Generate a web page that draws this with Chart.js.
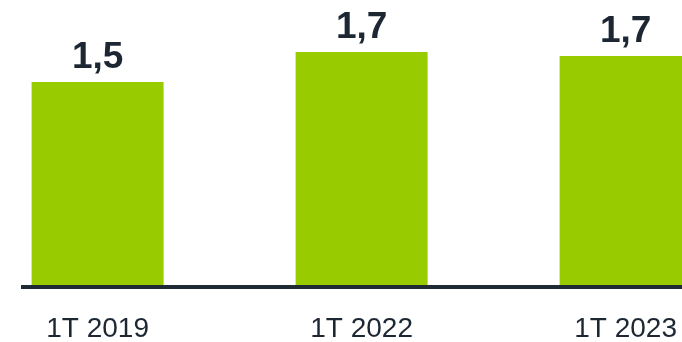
<!DOCTYPE html>
<html>
<head>
<meta charset="utf-8">
<script src="https://cdn.jsdelivr.net/npm/chart.js@4/dist/chart.umd.min.js"></script>
<style>
  html, body { margin: 0; padding: 0; background: #ffffff; overflow: hidden; }
  #chart { display: block; }
</style>
</head>
<body>
<canvas id="chart" width="682" height="342"></canvas>
<script>
// Quarter labels and the value of each bar
const categories = ['1T 2019', '1T 2022', '1T 2023'];
const values = [1.50, 1.72, 1.69];

const BAR_GREEN = '#99cc00';
const INK = '#1c2733';
const FONT = '"Liberation Sans", Arial, Helvetica, sans-serif';

// Writes each bar's value (one decimal, comma separator) above it
const valueLabels = {
  id: 'valueLabels',
  afterDatasetsDraw(chart) {
    const ctx = chart.ctx;
    const meta = chart.getDatasetMeta(0);
    ctx.save();
    ctx.fillStyle = INK;
    ctx.font = 'bold 37px ' + FONT;
    ctx.textAlign = 'center';
    ctx.textBaseline = 'alphabetic';
    meta.data.forEach((bar, i) => {
      const text = values[i].toFixed(1).replace('.', ',');
      ctx.fillText(text, bar.x, bar.y - 14);
    });
    ctx.restore();
  }
};

new Chart(document.getElementById('chart'), {
  type: 'bar',
  data: {
    datasets: [{
      data: values.map((v, i) => ({ x: i, y: v })),
      backgroundColor: BAR_GREEN,
      borderWidth: 0,
      categoryPercentage: 1,
      barPercentage: 0.5
    }]
  },
  options: {
    responsive: false,
    animation: false,
    layout: { padding: { left: 23, right: 0, top: 0, bottom: 0 } },
    plugins: {
      legend: { display: false },
      tooltip: { enabled: false }
    },
    scales: {
      x: {
        type: 'linear',
        offset: false,
        min: -0.2826,
        max: 2.2136,
        grid: { display: false, drawTicks: false, offset: false },
        border: { display: true, color: '#1f2a35', width: 4, z: 1 },
        afterBuildTicks(scale) {
          scale.ticks = categories.map((_, i) => ({ value: i }));
        },
        afterFit(scale) {
          // the axis runs right to the canvas edges; no extra room for edge labels
          scale.height = 55;
          scale.paddingLeft = 0;
          scale.paddingRight = 0;
        },
        ticks: {
          padding: 25,
          maxRotation: 0,
          autoSkip: false,
          color: INK,
          font: { family: FONT, size: 28 },
          callback: (value) => categories[value] ?? ''
        }
      },
      y: {
        display: false,
        min: 0,
        max: 2.1
      }
    }
  },
  plugins: [valueLabels]
});
</script>
</body>
</html>
